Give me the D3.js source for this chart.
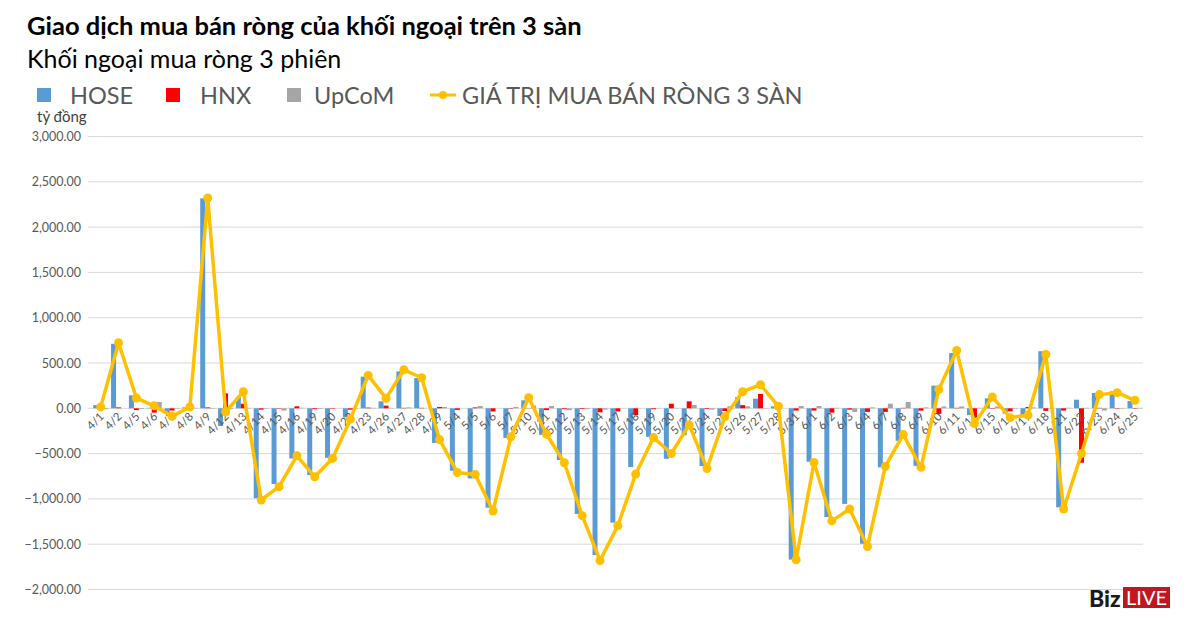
<!DOCTYPE html>
<html>
<head>
<meta charset="utf-8">
<script src="https://cdn.jsdelivr.net/npm/d3@7"></script>
<style>
  body { margin: 0; background: #fff; }
  svg { display: block; font-family: Lato, "Open Sans", sans-serif; }
</style>
</head>
<body>
<div id="chart"></div>
<script>
// ngày giao dịch
const dates = ["4/1","4/2","4/5","4/6","4/7","4/8","4/9","4/12","4/13","4/14","4/15","4/16","4/19","4/20","4/22","4/23","4/26","4/27","4/28","4/29",
  "5/4","5/5","5/6","5/7","5/10","5/11","5/12","5/13","5/14","5/17","5/18","5/19","5/20","5/21","5/24","5/25","5/26","5/27","5/28","5/31",
  "6/1","6/2","6/3","6/4","6/7","6/8","6/9","6/10","6/11","6/14","6/15","6/16","6/17","6/18","6/21","6/22","6/23","6/24","6/25"];
const hose = [35,712,143,5,-60,10,2317,-195,125,-993,-835,-554,-737,-546,-100,350,77,407,334,-382,
  -689,-774,-1097,-327,88,-293,-572,-1166,-1620,-1262,-649,-315,-557,-297,-638,-84,125,106,22,-1670,
  -590,-1200,-1055,-1495,-652,-359,-635,250,609,-75,110,-59,-100,630,-1093,95,169,187,81];
const hnx = [-10,10,-20,-48,-25,0,10,165,51,-15,-5,22,-10,-5,-15,8,29,5,5,15,
  -18,10,-35,-5,-2,-20,-10,-8,-44,-35,-75,-10,51,77,-8,-30,35,158,0,-25,
  -25,-48,-15,-40,-40,5,-26,-62,5,-95,-5,-33,15,-28,-25,-601,5,-5,-5];
const upcom = [-10,0,-8,70,-5,5,-5,-10,5,-5,-25,5,-8,0,-5,5,3,10,0,15,
  0,25,0,15,30,25,-20,-10,-15,0,0,3,5,37,-15,22,22,-3,0,25,
  25,5,-40,10,51,70,10,20,20,5,20,-5,10,-5,5,5,-25,-5,5];
const total = [15,723,113,27,-88,15,2321,-40,183,-1012,-865,-524,-755,-553,-120,363,110,425,337,-345,
  -708,-730,-1133,-315,117,-286,-601,-1185,-1680,-1295,-726,-323,-499,-183,-664,-92,183,260,22,-1672,
  -598,-1243,-1111,-1525,-641,-290,-652,209,638,-169,125,-103,-75,594,-1111,-499,151,173,88];
const yTicks = [3000,2500,2000,1500,1000,500,0,-500,-1000,-1500,-2000];

const series = [
  { key: "HOSE", values: hose, color: "#5B9BD5" },
  { key: "HNX", values: hnx, color: "#FF0000" },
  { key: "UpCoM", values: upcom, color: "#A5A5A5" }
];
const lineColor = "#FFC000";

const width = 1200, height = 622;
const svg = d3.select("#chart").append("svg")
  .attr("width", width).attr("height", height);

const x = d3.scaleBand().domain(dates).range([91.8, 1143.9]).paddingInner(0.16).paddingOuter(0.08);
const x1 = d3.scaleBand().domain(series.map(s => s.key)).range([0, x.bandwidth()]);
const y = d3.scaleLinear().domain([-2000, 3000]).range([589.5, 136.5]);

// lưới
svg.append("g")
  .selectAll("line")
  .data(yTicks)
  .join("line")
  .attr("x1", 88).attr("x2", 1143)
  .attr("y1", d => y(d)).attr("y2", d => y(d))
  .attr("stroke", "#d9d9d9").attr("stroke-width", 1);

// trục y
const gy = svg.append("g").attr("transform", "translate(81,0)")
  .call(d3.axisLeft(y).tickValues(yTicks).tickFormat(d3.format(",.2f")).tickSize(0).tickPadding(0))
  .call(g => g.select(".domain").remove());
gy.selectAll("text").attr("font-size", 12.5).attr("fill", "#595959")
  .attr("font-family", "Lato, sans-serif");

// cột
const groups = svg.append("g")
  .selectAll("g")
  .data(dates)
  .join("g")
  .attr("transform", d => `translate(${x(d)},0)`);

groups.selectAll("rect")
  .data((d, i) => series.map(s => ({ key: s.key, v: s.values[i], color: s.color })))
  .join("rect")
  .attr("x", d => x1(d.key))
  .attr("width", x1.bandwidth())
  .attr("y", d => y(Math.max(0, d.v)))
  .attr("height", d => Math.abs(y(d.v) - y(0)))
  .attr("fill", d => d.color);

// nhãn trục x
svg.append("g")
  .selectAll("text")
  .data(dates)
  .join("text")
  .attr("transform", d => `translate(${x(d) + x.bandwidth() / 2 + 4},${y(0) + 9}) rotate(-45)`)
  .attr("text-anchor", "end")
  .attr("font-size", 11.5)
  .attr("fill", "#595959")
  .text(d => d);

// đường tổng
const line = d3.line()
  .x((d, i) => x(dates[i]) + x.bandwidth() / 2)
  .y(d => y(d));
svg.append("path")
  .datum(total)
  .attr("d", line)
  .attr("fill", "none")
  .attr("stroke", lineColor)
  .attr("stroke-width", 3.5)
  .attr("stroke-linejoin", "round");
svg.append("g")
  .selectAll("circle")
  .data(total)
  .join("circle")
  .attr("cx", (d, i) => x(dates[i]) + x.bandwidth() / 2)
  .attr("cy", d => y(d))
  .attr("r", 4.5)
  .attr("fill", lineColor);

// tiêu đề
svg.append("text").attr("x", 27).attr("y", 35)
  .attr("font-size", 25.5).attr("font-weight", 700).attr("fill", "#000")
  .text("Giao dịch mua bán ròng của khối ngoại trên 3 sàn");
svg.append("text").attr("x", 27).attr("y", 68)
  .attr("font-size", 25).attr("fill", "#000")
  .text("Khối ngoại mua ròng 3 phiên");

// chú giải
const legend = [
  { label: "HOSE", color: series[0].color, sx: 37, tx: 70 },
  { label: "HNX", color: series[1].color, sx: 166, tx: 200 },
  { label: "UpCoM", color: series[2].color, sx: 287, tx: 314 }
];
legend.forEach(l => {
  svg.append("rect").attr("x", l.sx).attr("y", 88).attr("width", 14).attr("height", 14).attr("fill", l.color);
  svg.append("text").attr("x", l.tx).attr("y", 104).attr("font-size", 23.5).attr("fill", "#595959").text(l.label);
});
svg.append("line").attr("x1", 430).attr("x2", 456).attr("y1", 95).attr("y2", 95)
  .attr("stroke", lineColor).attr("stroke-width", 3);
svg.append("circle").attr("cx", 443).attr("cy", 95).attr("r", 4).attr("fill", lineColor);
svg.append("text").attr("x", 462).attr("y", 104).attr("font-size", 23.5).attr("fill", "#595959")
  .text("GIÁ TRỊ MUA BÁN RÒNG 3 SÀN");

svg.append("text").attr("x", 37).attr("y", 122).attr("font-size", 15).attr("fill", "#404040")
  .text("tỷ đồng");

// logo
svg.append("text").attr("x", 1089).attr("y", 607).attr("font-size", 23).attr("font-weight", 900)
  .attr("fill", "#1a1a1a").text("Biz");
svg.append("rect").attr("x", 1123).attr("y", 587).attr("width", 47).attr("height", 21).attr("fill", "#C0161F");
svg.append("text").attr("x", 1146.5).attr("y", 605).attr("text-anchor", "middle").attr("font-size", 20)
  .attr("fill", "#fff").text("LIVE");
</script>
</body>
</html>
